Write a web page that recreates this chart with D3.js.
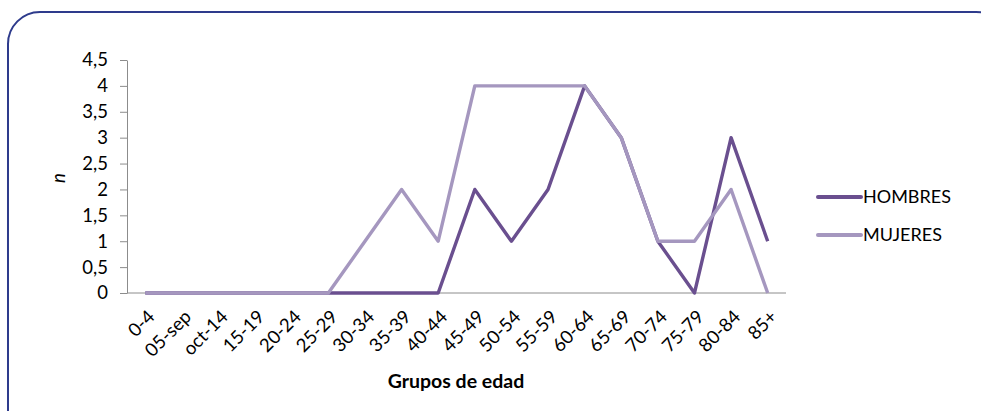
<!DOCTYPE html>
<html>
<head>
<meta charset="utf-8">
<script src="https://cdn.jsdelivr.net/npm/d3@7"></script>
<style>
  body { margin: 0; background: #fff; }
  svg { display: block; font-family: Lato, 'Open Sans', sans-serif; }
</style>
</head>
<body>
<div id="chart"></div>
<script>
// Data
const ageGroups = ['0-4', '05-sep', 'oct-14', '15-19', '20-24', '25-29', '30-34', '35-39', '40-44',
  '45-49', '50-54', '55-59', '60-64', '65-69', '70-74', '75-79', '80-84', '85+'];
const hombres = [0, 0, 0, 0, 0, 0, 0, 0, 0, 2, 1, 2, 4, 3, 1, 0, 3, 1];
const mujeres = [0, 0, 0, 0, 0, 0, 1, 2, 1, 4, 4, 4, 4, 3, 1, 1, 2, 0];
const yTicks = [0, 0.5, 1, 1.5, 2, 2.5, 3, 3.5, 4, 4.5];

// Sizes & colors
const width = 981;
const height = 411;
const plotLeft = 127;
const plotRight = 786;
const plotTop = 60;
const plotBottom = 293;
const darkPurple = '#6a4f8f';
const lightPurple = '#a597bf';
const axisGrey = '#8c8c8c';

const svg = d3.select('#chart').append('svg')
  .attr('width', width)
  .attr('height', height);

// Frame
svg.append('rect')
  .attr('x', 8)
  .attr('y', 12)
  .attr('width', 1000)
  .attr('height', 440)
  .attr('rx', 32)
  .attr('fill', 'none')
  .attr('stroke', '#2e3b8c')
  .attr('stroke-width', 2);

// Scales
const x = d3.scalePoint()
  .domain(ageGroups)
  .range([plotLeft, plotRight])
  .padding(0.5);
const y = d3.scaleLinear()
  .domain([0, 4.5])
  .range([plotBottom, plotTop]);

const fmt = d => String(d).replace('.', ',');

// Y axis
const yAxis = svg.append('g')
  .attr('transform', `translate(${plotLeft},0)`)
  .call(d3.axisLeft(y).tickValues(yTicks).tickFormat(fmt).tickSize(7).tickSizeOuter(0));
yAxis.select('.domain').attr('stroke', axisGrey);
yAxis.selectAll('.tick line').attr('stroke', axisGrey);
yAxis.selectAll('.tick text')
  .attr('x', -19)
  .attr('font-size', 18.5)
  .attr('font-family', 'Lato, sans-serif')
  .attr('fill', '#000');

// X axis
const xAxis = svg.append('g')
  .attr('transform', `translate(0,${plotBottom})`)
  .call(d3.axisBottom(x).tickSize(0).tickSizeOuter(0));
xAxis.select('.domain')
  .attr('d', `M${plotLeft},0H${plotRight}`)
  .attr('stroke', axisGrey);
xAxis.selectAll('.tick text')
  .attr('font-size', 18.5)
  .attr('font-family', 'Lato, sans-serif')
  .attr('fill', '#000')
  .attr('text-anchor', 'end')
  .attr('dy', null)
  .attr('y', 0)
  .attr('transform', 'translate(10,25) rotate(-45)');

// Axis titles
svg.append('text')
  .attr('transform', 'translate(65,178) rotate(-90)')
  .attr('text-anchor', 'middle')
  .attr('font-size', 18.5)
  .attr('font-style', 'italic')
  .text('n');

svg.append('text')
  .attr('x', 456)
  .attr('y', 388)
  .attr('text-anchor', 'middle')
  .attr('font-size', 19.5)
  .attr('font-weight', 'bold')
  .text('Grupos de edad');

// Lines
const line = d3.line()
  .x((d, i) => x(ageGroups[i]))
  .y(d => y(d));

const series = [
  {name: 'HOMBRES', values: hombres, color: darkPurple},
  {name: 'MUJERES', values: mujeres, color: lightPurple}
];

svg.append('g')
  .selectAll('path')
  .data(series)
  .join('path')
  .attr('d', d => line(d.values))
  .attr('fill', 'none')
  .attr('stroke', d => d.color)
  .attr('stroke-width', 3.4)
  .attr('stroke-linejoin', 'round');

// Legend
const legend = svg.append('g')
  .selectAll('g')
  .data(series)
  .join('g')
  .attr('transform', (d, i) => `translate(818,${197 + i * 38})`);
legend.append('line')
  .attr('x1', 0)
  .attr('x2', 43)
  .attr('stroke', d => d.color)
  .attr('stroke-width', 4)
  .attr('stroke-linecap', 'round');
legend.append('text')
  .attr('x', 45)
  .attr('dy', '0.35em')
  .attr('font-size', 18)
  .text(d => d.name);
</script>
</body>
</html>
